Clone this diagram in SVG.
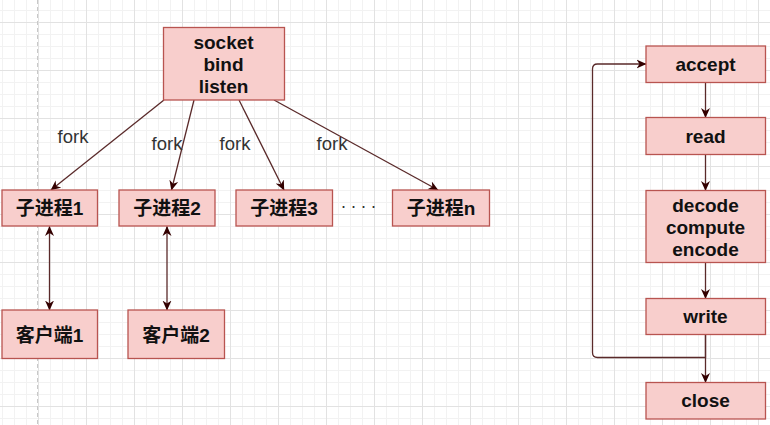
<svg xmlns="http://www.w3.org/2000/svg" width="770" height="425" viewBox="0 0 770 425">
  <defs>
    <pattern id="grid" patternUnits="userSpaceOnUse" x="38" y="22" width="48" height="48">
      <path d="M12.5,0 V48 M24.5,0 V48 M36.5,0 V48 M0,12.5 H48 M0,24.5 H48 M0,36.5 H48" stroke="#f2f2f2" stroke-width="1" fill="none"/>
      <path d="M0.5,0 V48 M0,0.5 H48" stroke="#e2e2e2" stroke-width="1" fill="none"/>
    </pattern>
    <marker id="arr" viewBox="0 0 10 10" refX="9.5" refY="5" markerWidth="10" markerHeight="10" markerUnits="userSpaceOnUse" orient="auto-start-reverse">
      <path d="M0,0.5 L10,5 L0,9.5 L3,5 Z" fill="#330000"/>
    </marker>
    <style>
      .node rect { fill: #f8cecc; stroke: #b85450; stroke-width: 1.3; }
      .node text { font-family: "Liberation Sans", "Noto Sans CJK SC", Arial, sans-serif; font-weight: bold; font-size: 19px; fill: #111; text-anchor: middle; }
      .edge { fill: none; stroke: #5a2a2a; stroke-width: 1.3; }
      .lbl { font-family: "Liberation Sans", Arial, sans-serif; font-size: 18.5px; fill: #333; text-anchor: middle; }
    </style>
  </defs>
  <rect width="770" height="425" fill="#ffffff"/>
  <rect width="770" height="425" fill="url(#grid)"/>
  <line x1="37.5" y1="0" x2="37.5" y2="425" stroke="#c8c8c8" stroke-width="1" stroke-dasharray="4 3"/>

  <g id="connectors">
    <line class="edge" x1="164" y1="100" x2="51" y2="190" marker-end="url(#arr)"/>
    <line class="edge" x1="194" y1="100" x2="171.5" y2="190" marker-end="url(#arr)"/>
    <line class="edge" x1="239" y1="100" x2="284" y2="190" marker-end="url(#arr)"/>
    <line class="edge" x1="274" y1="100" x2="438" y2="190" marker-end="url(#arr)"/>
    <line class="edge" x1="49.5" y1="226.5" x2="49.5" y2="310" marker-start="url(#arr)" marker-end="url(#arr)"/>
    <line class="edge" x1="167" y1="226.5" x2="167" y2="310" marker-start="url(#arr)" marker-end="url(#arr)"/>
    <line class="edge" x1="705.5" y1="82.5" x2="705.5" y2="117.5" marker-end="url(#arr)"/>
    <line class="edge" x1="705.5" y1="154.5" x2="705.5" y2="190.5" marker-end="url(#arr)"/>
    <line class="edge" x1="705.5" y1="262.5" x2="705.5" y2="298.5" marker-end="url(#arr)"/>
    <line class="edge" x1="705.5" y1="334.5" x2="705.5" y2="382.5" marker-end="url(#arr)"/>
    <path class="edge" d="M705.5,334.5 L705.5,357.5 L597.5,357.5 Q592.5,357.5 592.5,352.5 L592.5,69 Q592.5,64 597.5,64 L646,64" marker-end="url(#arr)"/>
    <text class="lbl" x="73" y="143">fork</text>
    <text class="lbl" x="167" y="150">fork</text>
    <text class="lbl" x="235" y="150">fork</text>
    <text class="lbl" x="332" y="150">fork</text>
  </g>

  <g id="n-socket" class="node">
    <rect x="163.5" y="27.5" width="121" height="72.5"/>
    <text x="223.5" y="49">socket</text>
    <text x="223.5" y="71">bind</text>
    <text x="223.5" y="93">listen</text>
  </g>
  <g id="n-child1" class="node">
    <rect x="2" y="190" width="95.5" height="36"/>
    <text x="49.5" y="215">子进程1</text>
  </g>
  <g id="n-child2" class="node">
    <rect x="119" y="190" width="96" height="36"/>
    <text x="167" y="215">子进程2</text>
  </g>
  <g id="n-child3" class="node">
    <rect x="236" y="190" width="96.5" height="36"/>
    <text x="284" y="215">子进程3</text>
  </g>
  <g id="n-dots">
    <text x="341" y="208" style="font-family: 'Liberation Sans', Arial, sans-serif; font-size: 18px; fill: #333;">. . . .</text>
  </g>
  <g id="n-childn" class="node">
    <rect x="392.5" y="190" width="97" height="36"/>
    <text x="441" y="215">子进程n</text>
  </g>
  <g id="n-client1" class="node">
    <rect x="2" y="310" width="95.5" height="48.5"/>
    <text x="49.5" y="342">客户端1</text>
  </g>
  <g id="n-client2" class="node">
    <rect x="128" y="310" width="96.5" height="48.5"/>
    <text x="176" y="342">客户端2</text>
  </g>
  <g id="n-accept" class="node">
    <rect x="646" y="46" width="119.5" height="36.5"/>
    <text x="705.5" y="70.5">accept</text>
  </g>
  <g id="n-read" class="node">
    <rect x="646" y="117.5" width="119.5" height="37"/>
    <text x="705.5" y="142.5">read</text>
  </g>
  <g id="n-process" class="node">
    <rect x="646" y="190.5" width="119.5" height="72"/>
    <text x="705.5" y="211.5">decode</text>
    <text x="705.5" y="233.5">compute</text>
    <text x="705.5" y="255.5">encode</text>
  </g>
  <g id="n-write" class="node">
    <rect x="646" y="298.5" width="119.5" height="36"/>
    <text x="705.5" y="323">write</text>
  </g>
  <g id="n-close" class="node">
    <rect x="646" y="382.5" width="119.5" height="36.5"/>
    <text x="705.5" y="407">close</text>
  </g>
</svg>
